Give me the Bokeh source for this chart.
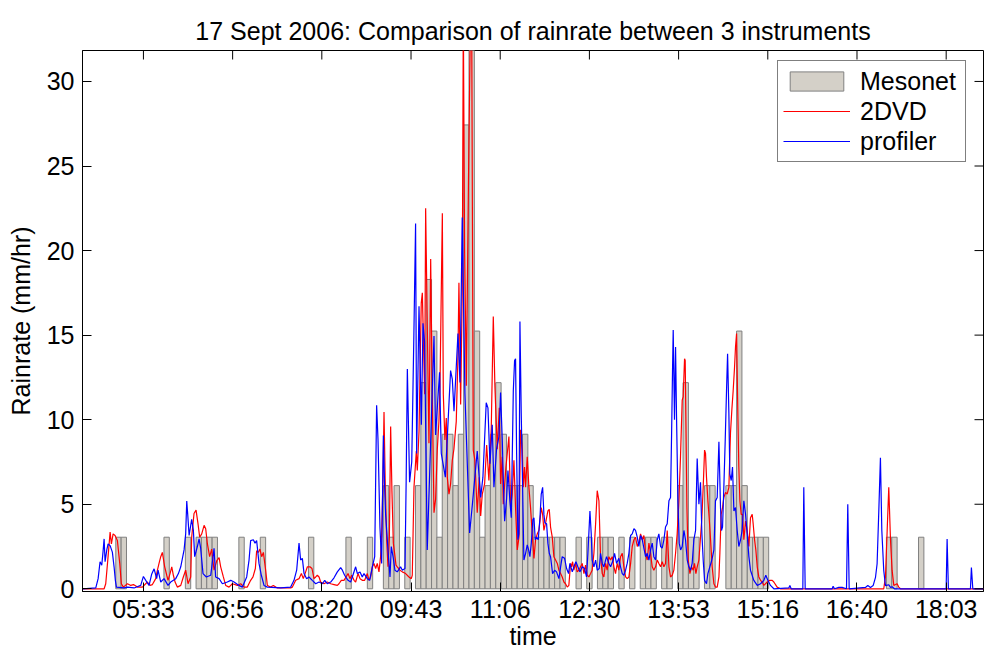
import math
from bokeh.plotting import figure
from bokeh.models import Range1d, FixedTicker, Legend, LegendItem
from bokeh.embed import file_html
from bokeh.resources import INLINE

TITLE = "17 Sept 2006: Comparison of rainrate between 3 instruments"
X_LABEL = "time"
Y_LABEL = "Rainrate (mm/hr)"

# time axis in minutes of the day
x_tick_values = [333.3333, 416.6667, 500.0, 583.3333, 666.6667, 750.0,
                 833.3333, 916.6667, 1000.0, 1083.3333]
x_tick_labels = ["05:33", "06:56", "08:20", "09:43", "11:06", "12:30",
                 "13:53", "15:16", "16:40", "18:03"]
y_tick_values = [0, 5, 10, 15, 20, 25, 30]

# Mesonet 5-minute rain rate (mm/hr), bin centre in minutes of the day
meso_time = [310, 315, 355, 375, 385, 390, 395, 400, 425, 445, 490, 525, 545,
             560, 565, 570, 580, 590, 595, 600, 605, 610, 615, 620, 625, 630,
             635, 640, 645, 650, 655, 660, 665, 670, 675, 680, 685, 690, 695,
             700, 705, 710, 715, 720, 725, 740, 750, 760, 765, 770, 780, 790,
             800, 805, 810, 820, 825, 835, 840, 845, 850, 860, 865, 880, 885,
             890, 895, 900, 905, 910, 915, 1030, 1035, 1060]
meso_rate = [3.05, 3.05, 3.05, 3.05, 3.05, 3.05, 3.05, 3.05, 3.05, 3.05, 3.05, 3.05, 3.05,
             6.10, 3.05, 6.10, 3.05, 6.10, 12.19, 18.29, 15.24, 3.05, 9.14, 9.14, 6.10, 9.14,
             27.43, 33.53, 15.24, 3.05, 6.10, 9.14, 12.19, 9.14, 6.10, 6.10, 6.10, 9.14, 6.10,
             3.05, 3.05, 3.05, 3.05, 3.05, 3.05, 3.05, 3.05, 3.05, 3.05, 3.05, 3.05, 3.05,
             3.05, 3.05, 3.05, 3.05, 3.05, 6.10, 12.19, 3.05, 3.05, 6.10, 6.10, 6.10, 6.10,
             15.24, 6.10, 3.05, 3.05, 3.05, 3.05, 3.05, 3.05, 3.05]

# 2DVD rain rate (mm/hr)
dvd_time = [276.7, 296.6, 298.1, 300.3, 302.2, 303.4, 305.0, 306.8, 309.0, 311.2, 312.7, 314.6,
            318.4, 321.5, 324.0, 327.7, 332.4, 337.0, 339.5, 341.7, 344.8, 346.4, 347.9, 349.5,
            351.0, 353.2, 355.1, 356.3, 358.2, 359.8, 361.3, 362.9, 365.0, 368.2, 370.6, 372.8,
            375.0, 377.5, 378.4, 380.6, 382.5, 384.3, 385.9, 387.8, 390.0, 391.5, 393.1, 395.2,
            397.1, 399.3, 401.8, 404.0, 405.5, 408.0, 410.2, 413.3, 416.4, 421.1, 424.2, 427.3,
            430.4, 433.5, 435.7, 437.9, 439.1, 440.7, 442.2, 443.8, 445.4, 447.5, 449.1, 452.2,
            454.7, 458.4, 470.9, 472.5, 475.6, 478.7, 480.9, 482.7, 484.9, 486.5, 488.9, 490.8,
            492.7, 494.3, 495.8, 497.4, 498.9, 502.0, 505.1, 508.3, 511.4, 514.5, 516.0, 518.2,
            520.7, 522.6, 524.5, 526.3, 527.9, 530.1, 531.6, 533.8, 535.7, 537.8, 540.0, 542.5,
            544.1, 545.6, 547.2, 548.7, 550.3, 551.8, 553.4, 554.9, 555.9, 557.1, 558.1, 559.3,
            560.6, 561.8, 563.1, 564.3, 565.5, 566.8, 568.0, 569.3, 570.5, 573.0, 575.2, 578.3,
            581.4, 583.6, 584.5, 586.1, 588.3, 589.2, 590.8, 592.9, 593.9, 596.1, 597.0, 598.5,
            600.1, 601.7, 603.2, 604.8, 606.3, 607.9, 609.4, 610.4, 612.6, 613.5, 615.0, 616.3,
            617.2, 618.8, 620.3, 621.9, 623.4, 625.6, 627.2, 628.1, 629.7, 631.2, 632.2, 633.4,
            635.0, 637.0, 638.9, 640.0, 641.5, 643.0, 645.2, 647.1, 648.4, 649.9, 652.1, 654.0,
            656.1, 658.3, 660.2, 661.7, 663.9, 665.8, 667.0, 668.6, 669.5, 672.0, 674.8, 676.4,
            677.9, 679.5, 681.0, 682.6, 684.2, 685.7, 687.3, 688.2, 689.4, 690.4, 691.9, 693.5,
            695.0, 696.6, 698.2, 699.7, 701.3, 702.8, 703.8, 705.0, 706.3, 707.5, 709.4, 711.2,
            712.5, 713.7, 715.3, 716.8, 718.4, 720.0, 721.5, 723.1, 724.6, 726.2, 727.7, 729.3,
            730.8, 732.4, 733.3, 734.3, 735.5, 737.1, 738.6, 740.2, 741.7, 743.3, 744.9, 746.4,
            748.0, 749.5, 751.1, 752.6, 754.2, 755.8, 757.3, 758.9, 760.4, 762.0, 763.5, 765.1,
            766.6, 768.2, 769.8, 771.3, 772.9, 774.4, 776.0, 777.5, 779.1, 780.7, 782.2, 783.8,
            785.3, 786.9, 788.5, 790.0, 791.6, 793.1, 794.7, 796.2, 797.8, 799.4, 800.9, 802.5,
            804.0, 805.6, 807.1, 808.7, 810.2, 811.8, 813.4, 814.9, 816.5, 818.0, 819.6, 821.1,
            822.7, 824.3, 825.8, 827.4, 828.9, 830.5, 832.0, 833.6, 835.1, 836.7, 837.6, 838.9,
            839.5, 840.1, 841.1, 842.3, 843.9, 845.4, 847.0, 848.2, 849.5, 850.7, 852.3, 853.8,
            855.1, 856.3, 857.6, 858.5, 859.4, 860.7, 861.9, 863.2, 864.7, 866.3, 867.8, 869.4,
            871.0, 871.9, 873.1, 874.4, 875.6, 877.2, 878.7, 880.3, 881.8, 883.1, 884.3, 885.6,
            886.5, 887.5, 888.7, 889.6, 890.6, 891.8, 893.1, 894.3, 895.9, 897.4, 899.0, 900.5,
            902.1, 903.0, 904.3, 905.5, 906.8, 908.3, 909.9, 911.4, 913.0, 916.1, 918.6, 920.8,
            922.3, 925.4, 928.5, 1025.0, 1026.6, 1028.2, 1029.7, 1031.3, 1032.8, 1034.4, 1036.0,
            1037.5, 1039.0, 1040.6, 1118.2]
dvd_rate = [0, 0, 0.3, 1.9, 3.35, 2.65, 3.25, 3.15, 2.85, 1.5, 0.3, 0.1,
            0.3, 0.2, 0.25, 0.1, 0.1, 0.4, 0.2, 0.25, 0.6, 1.1, 1.5, 1.9,
            2.15, 1.3, 0.8, 0.5, 0.9, 1.3, 0.8, 0.4, 0.1, 0.2, 0.7, 1.1,
            0.3, 0.7, 3.05, 4.45, 4.65, 3.85, 3.05, 3.25, 3.75, 3.55, 2.65, 1.9,
            2.35, 1.1, 1.65, 1.85, 1.3, 0.7, 0.2, 0.1, 0.3, 0.2, 0.3, 0.1,
            0.1, 0.5, 0.7, 1.2, 2.25, 2.15, 2.35, 1.9, 2.15, 1.1, 0.2, 0.1,
            0.2, 0.05, 0.05, 0.1, 0.5, 0.6, 0.9, 0.6, 1.0, 1.3, 1.3, 1.2,
            0.6, 0.7, 0.8, 0.7, 0.4, 0.3, 0.4, 0.3, 0.25, 0.2, 0.3, 0.5,
            0.5, 0.7, 0.9, 0.6, 0.8, 0.5, 0.4, 0.9, 0.6, 0.5, 0.5, 0.9,
            0.5, 0.7, 1.3, 1.5, 1.2, 1.5, 1.0, 1.9, 3.25, 6.4, 10.45, 6.0,
            2.9, 1.3, 3.05, 9.6, 5.8, 2.7, 2.1, 1.4, 1.3, 1.1, 1.0, 0.9,
            0.7, 0.6, 0.8, 6.0, 8.15, 7.0, 9.3, 16.9, 17.5, 11.5, 22.5, 15.7,
            8.6, 19.5, 11.5, 4.5, 5.3, 8.25, 9.9, 12.0, 22.2, 11.5, 8.8, 10.1,
            6.6, 5.6, 6.2, 7.6, 8.25, 9.9, 13.8, 18.1, 10.9, 17.7, 34.0, 20.0,
            12.0, 24.0, 34.0, 34.0, 8.2, 7.6, 4.5, 6.6, 4.3, 5.6, 6.2, 8.5,
            6.4, 9.5, 16.1, 12.0, 8.25, 10.7, 6.2, 7.8, 5.0, 7.2, 9.0, 4.8,
            5.6, 7.6, 4.8, 2.3, 3.05, 9.4, 8.2, 6.0, 7.2, 6.0, 7.8, 6.0,
            4.8, 3.25, 1.8, 2.9, 3.25, 3.45, 4.0, 4.8, 4.4, 3.45, 4.0, 4.6,
            4.7, 3.65, 3.05, 1.9, 1.7, 1.5, 1.1, 0.9, 0.7, 0.4, 0.3, 0.1,
            0.2, 1.5, 1.3, 1.6, 1.1, 1.5, 1.0, 1.1, 1.3, 1.5, 0.9, 1.4,
            0.8, 0.7, 0.9, 1.1, 2.1, 3.85, 5.8, 5.2, 1.9, 0.9, 0.7, 1.5,
            1.1, 1.9, 1.7, 1.9, 1.3, 0.9, 1.5, 1.1, 1.9, 2.1, 1.3, 0.7,
            0.6, 0.7, 1.5, 2.5, 2.9, 3.05, 2.5, 2.75, 3.25, 2.9, 3.15, 2.1,
            1.7, 2.7, 2.1, 1.3, 1.1, 1.3, 1.7, 1.5, 1.3, 1.6, 1.3, 1.5,
            3.45, 1.3, 0.7, 0.8, 1.1, 2.1, 3.25, 5.2, 7.8, 11.15, 11.35, 13.6,
            13.5, 10.2, 4.8, 1.7, 0.9, 1.3, 1.1, 1.5, 0.9, 1.3, 1.7, 3.05,
            4.2, 6.0, 8.2, 8.0, 6.6, 5.2, 4.2, 2.9, 1.3, 0.3, 0.1, 0.1,
            0.7, 2.1, 4.4, 4.8, 5.4, 5.7, 5.6, 6.0, 9.2, 10.6, 11.7, 13.1,
            14.3, 15.1, 10.3, 7.2, 5.2, 4.4, 4.4, 2.9, 4.0, 3.45, 2.5, 4.2,
            4.4, 3.85, 2.9, 2.3, 1.3, 0.7, 0.5, 0.4, 0.2, 0.4, 0.5, 0.5,
            0.4, 0.1, 0, 0, 0.7, 3.45, 6.0, 2.9, 1.1, 0.2, 0.25,
            0.3, 0.1, 0, 0]

# profiler rain rate (mm/hr)
prof_time = [276.7, 288.8, 291.0, 292.8, 294.4, 295.6, 296.6, 297.5, 299.1, 300.3, 302.2, 304.3,
             305.9, 307.1, 308.1, 315.2, 318.4, 324.6, 330.8, 333.3, 335.5, 338.6, 341.1, 343.3,
             345.7, 347.0, 349.5, 352.6, 356.3, 358.8, 363.5, 366.0, 368.2, 371.3, 372.8, 373.8,
             374.7, 376.0, 378.4, 380.0, 381.2, 383.7, 385.3, 386.8, 389.0, 392.1, 396.2, 398.0,
             399.3, 400.8, 404.0, 407.1, 411.7, 414.9, 418.0, 422.6, 425.8, 429.8, 432.0, 433.5,
             436.0, 437.6, 439.1, 441.3, 443.5, 446.0, 449.1, 461.6, 470.9, 474.0, 476.5, 478.7,
             480.2, 481.8, 483.4, 485.8, 488.0, 491.1, 494.3, 497.4, 500.5, 502.7, 505.1, 508.3,
             511.4, 514.5, 517.6, 519.2, 521.3, 524.5, 526.9, 528.5, 531.6, 533.2, 535.7, 537.8,
             539.4, 542.5, 544.7, 547.2, 549.4, 551.2, 552.5, 554.3, 555.9, 557.5, 558.7, 559.6,
             561.8, 563.7, 564.9, 566.8, 568.3, 570.5, 573.6, 575.2, 577.7, 578.8, 579.9, 582.0,
             584.0, 586.0, 587.6, 588.6, 590.8, 593.0, 594.5, 596.0, 598.5, 604.8, 606.3, 610.0,
             611.6, 615.4, 620.3, 621.9, 623.5, 627.2, 629.1, 631.2, 633.7, 638.1, 640.6, 645.2,
             648.4, 650.5, 653.6, 655.2, 657.1, 659.2, 660.8, 663.3, 665.5, 667.0, 668.6, 669.5,
             670.8, 672.6, 673.9, 675.7, 677.0, 678.9, 680.1, 681.0, 682.0, 683.2, 684.2, 685.1,
             686.3, 687.6, 688.8, 690.4, 691.9, 693.2, 694.4, 695.7, 697.2, 698.2, 699.4, 700.6,
             702.2, 703.8, 705.0, 706.3, 707.5, 708.4, 710.0, 711.2, 712.5, 713.7, 715.6, 717.5,
             719.3, 721.5, 723.1, 724.6, 726.8, 728.7, 730.5, 731.8, 734.0, 735.5, 737.4, 739.2,
             741.1, 743.3, 745.5, 747.3, 748.6, 750.5, 751.7, 752.6, 754.2, 755.8, 757.3, 759.2,
             760.4, 762.0, 763.5, 766.0, 768.2, 769.8, 772.2, 773.5, 775.4, 777.5, 779.1, 780.7,
             782.2, 783.8, 785.3, 786.9, 788.5, 790.0, 791.6, 793.1, 794.7, 796.2, 797.8, 799.4,
             800.9, 802.5, 804.0, 805.6, 807.1, 808.7, 810.2, 811.8, 813.4, 814.9, 816.5, 818.0,
             819.6, 821.1, 822.7, 824.3, 825.8, 826.8, 827.7, 828.3, 829.5, 830.5, 831.4, 832.7,
             833.9, 835.2, 836.7, 838.3, 839.8, 841.4, 842.9, 844.5, 846.0, 847.6, 849.2, 850.7,
             852.3, 853.8, 855.1, 856.3, 857.6, 859.4, 860.7, 862.5, 864.4, 866.3, 867.8, 869.4,
             871.0, 872.5, 873.4, 874.4, 875.6, 876.9, 878.1, 879.1, 880.3, 881.2, 882.5, 883.7,
             885.0, 886.5, 888.1, 889.6, 891.2, 892.7, 894.3, 895.9, 897.4, 899.0, 900.5, 903.6,
             906.8, 909.9, 913.0, 914.8, 916.7, 919.2, 922.3, 936.3, 937.3, 938.5, 949.4, 950.3,
             951.6, 976.8, 977.7, 979.0, 983.0, 986.1, 990.2, 991.4, 992.7, 1007.9, 1010.1, 1012.6,
             1015.1, 1017.3, 1018.8, 1020.4, 1021.9, 1023.2, 1025.0, 1026.6, 1029.7, 1031.3, 1032.8,
             1035.0, 1083.3, 1084.2, 1085.4, 1106.0, 1106.9, 1108.2, 1118.2]
prof_rate = [0, 0.05, 0.6, 1.6, 1.4, 2.2, 2.95, 1.6, 2.3, 2.65, 2.55, 2.17,
             1.3, 0.5, 0.1, 0.05, 0.1, 0.05, 0.2, 0.73, 0.5, 0.2, 0.88, 1.18,
             0.6, 1.1, 0.4, 0.6, 0.2, 0.4, 0.6, 0.9, 1.3, 2.3, 3.25, 5.19,
             4.4, 3.15, 4.1, 3.45, 1.9, 2.5, 2.95, 2.4, 0.9, 0.7, 0.8, 1.7,
             2.4, 0.7, 0.6, 0.3, 0.4, 0.5, 0.4, 0.2, 0.1, 0.7, 1.7, 2.85,
             2.9, 2.7, 2.85, 1.5, 0.8, 0.2, 0.1, 0.05, 0.1, 0.5, 1.1, 2.7,
             1.7, 1.8, 0.9, 0.6, 0.7, 0.5, 0.3, 0.4, 0.3, 0.5, 0.3, 0.4,
             0.65, 1.0, 1.25, 1.1, 0.8, 0.5, 0.4, 0.7, 1.3, 0.9, 1.0, 0.7,
             0.9, 0.6, 0.5, 1.3, 1.9, 10.85, 8.8, 3.65, 1.5, 9.07, 6.0, 4.4,
             2.3, 0.7, 2.5, 1.8, 1.1, 1.0, 1.3, 1.1, 1.2, 6.4, 13.0, 6.3,
             7.5, 15.0, 21.6, 8.0, 16.7, 9.7, 15.7, 14.6, 2.3, 14.95, 9.1, 12.8,
             8.0, 6.6, 12.9, 12.4, 10.5, 15.1, 12.2, 21.96, 11.55, 3.3, 4.95, 8.15,
             5.4, 6.6, 11.0, 10.7, 7.4, 9.7, 6.0, 8.3, 9.0, 11.6, 8.8, 6.6,
             4.0, 5.3, 7.0, 5.2, 4.2, 11.7, 13.5, 13.6, 8.0, 2.9, 3.25, 15.8,
             10.4, 6.0, 1.7, 2.1, 2.6, 2.3, 1.9, 2.7, 4.1, 4.2, 2.9, 3.05,
             2.9, 4.2, 5.6, 6.0, 4.4, 3.9, 3.85, 2.7, 2.1, 1.9, 0.9, 1.1,
             1.0, 0.6, 1.3, 1.9, 1.8, 1.2, 0.9, 1.5, 1.0, 1.3, 1.6, 1.3,
             1.0, 1.3, 1.2, 0.7, 2.1, 4.6, 3.25, 1.7, 1.3, 1.7, 1.1, 1.2,
             2.1, 1.5, 1.3, 1.9, 1.5, 1.3, 1.7, 2.1, 1.5, 1.8, 1.3, 0.9,
             0.8, 1.1, 1.5, 2.1, 3.15, 3.25, 3.55, 3.45, 3.05, 2.5, 3.15, 2.9,
             2.4, 1.9, 2.1, 1.7, 2.3, 2.7, 1.9, 1.7, 2.9, 3.25, 2.5, 2.4,
             2.9, 3.65, 3.85, 5.2, 5.4, 9.2, 13.1, 15.3, 10.0, 14.3, 10.2, 5.2,
             2.7, 2.3, 2.5, 3.45, 2.9, 1.7, 1.3, 1.1, 1.5, 2.9, 3.45, 7.7,
             5.0, 6.3, 3.25, 1.7, 0.5, 0.3, 0.9, 1.3, 1.7, 2.3, 5.2, 5.4,
             8.7, 4.8, 3.45, 3.65, 6.0, 8.8, 11.7, 13.9, 10.4, 6.8, 6.4, 7.2,
             4.6, 4.8, 3.45, 2.5, 2.9, 3.45, 5.2, 4.4, 3.25, 1.9, 1.1, 0.5,
             0.2, 0.3, 0.5, 0.8, 0.5, 0.2, 0, 0.05, 0.2, 0, 0, 6.0,
             0, 0, 0.15, 0, 0.08, 0.08, 0, 5.0, 0, 0.08, 0.19, 0.08,
             0.19, 0.68, 1.48, 4.63, 7.75, 3.45, 1.08, 0.19, 0.24, 0.08, 0.12,
             0, 0, 2.94, 0, 0, 1.26, 0, 0]

FONT = "Liberation Sans"
TICK_LEN = 9
RED = "#ff0000"
BLUE = "#0000ff"

x_range = Range1d(276.4, 1118.2)
y_range = Range1d(-0.16, 31.83)

p = figure(width=984, height=654, x_range=x_range, y_range=y_range,
           output_backend="svg", toolbar_location=None, title=TITLE,
           min_border_left=82, min_border_right=1,
           min_border_top=50, min_border_bottom=63)
p.background_fill_color = "white"
p.border_fill_color = "white"
p.outline_line_color = "black"
p.outline_line_width = 1
p.xgrid.visible = False
p.ygrid.visible = False

p.title.text_font = FONT
p.title.text_font_size = "25px"
p.title.text_font_style = "normal"
p.title.text_color = "black"
p.title.align = "center"
p.title.standoff = 12

bars = p.vbar(x=meso_time, top=meso_rate, bottom=0, width=5,
              fill_color="#d4d0c8", line_color="#808080", line_width=1)
red = p.multi_line(xs=[dvd_time], ys=[dvd_rate], line_color=RED, line_width=1.2)
blue = p.multi_line(xs=[prof_time], ys=[prof_rate], line_color=BLUE, line_width=1.2)

# mirrored inward ticks on the top and right edges of the box
p.ray(x=x_tick_values, y=[y_range.end] * len(x_tick_values), length=TICK_LEN,
      length_units="screen", angle=-math.pi / 2, line_color="black", line_width=1)
p.ray(x=[x_range.end] * len(y_tick_values), y=y_tick_values, length=TICK_LEN,
      length_units="screen", angle=math.pi, line_color="black", line_width=1)

p.xaxis.ticker = FixedTicker(ticks=x_tick_values)
p.xaxis.major_label_overrides = dict(zip(x_tick_values, x_tick_labels))
p.yaxis.ticker = FixedTicker(ticks=y_tick_values)
p.xaxis.axis_label = X_LABEL
p.yaxis.axis_label = Y_LABEL

for ax in [p.xaxis[0], p.yaxis[0]]:
    ax.major_tick_in = TICK_LEN
    ax.major_tick_out = 0
    ax.minor_tick_in = 0
    ax.minor_tick_out = 0
    ax.axis_line_color = "black"
    ax.major_tick_line_color = "black"
    ax.major_label_text_font = FONT
    ax.major_label_text_font_size = "25px"
    ax.major_label_text_color = "black"
    ax.axis_label_text_font = FONT
    ax.axis_label_text_font_size = "25px"
    ax.axis_label_text_font_style = "normal"
    ax.axis_label_text_color = "black"

p.xaxis.major_label_standoff = 3
p.xaxis.axis_label_standoff = -4
p.yaxis.major_label_standoff = 8
p.yaxis.axis_label_standoff = 9

legend = Legend(items=[LegendItem(label="Mesonet", renderers=[bars]),
                       LegendItem(label="2DVD", renderers=[red]),
                       LegendItem(label="profiler", renderers=[blue])],
                location=(695, 429), margin=0, padding=5, spacing=0,
                glyph_width=67, glyph_height=24, label_height=30, label_width=100,
                label_standoff=10,
                label_text_font=FONT, label_text_font_size="25px", label_text_color="black",
                border_line_color="black", border_line_width=1,
                background_fill_color="white", background_fill_alpha=1)
p.add_layout(legend, "center")

open("out.html", "w").write(file_html(p, INLINE))
